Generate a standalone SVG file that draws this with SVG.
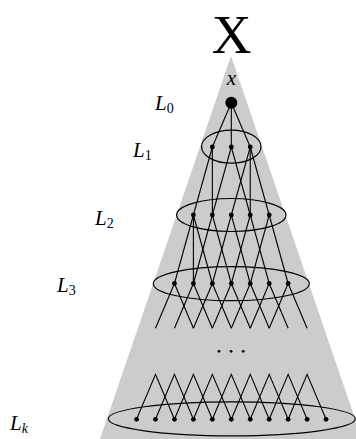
<svg xmlns="http://www.w3.org/2000/svg" width="356" height="439" viewBox="0 0 356 439">
<style>
.e{stroke:#000;stroke-width:1.2;fill:none}
#connectors line,#connectors polyline{stroke:#000;stroke-width:1.1;fill:none}
.d{fill:#000}
.m{font-family:"Liberation Serif","Times New Roman",serif;font-style:italic;font-size:21px;fill:#000}
.s{font-size:14px;font-style:normal}
.sk{font-size:14px}
</style>
<polygon points="231,56 100,439 362,439" fill="#cccccc"/>
<text x="231.5" y="53" font-family="Liberation Serif,serif" font-size="55" text-anchor="middle">X</text>
<g id="connectors">
<line x1="231.3" y1="102.7" x2="212.35" y2="147"/>
<line x1="231.3" y1="102.7" x2="231.3" y2="147"/>
<line x1="231.3" y1="102.7" x2="250.25" y2="147"/>
<line x1="212.35" y1="147" x2="193.4" y2="215"/>
<line x1="212.35" y1="147" x2="212.35" y2="215"/>
<line x1="231.3" y1="147" x2="212.35" y2="215"/>
<line x1="231.3" y1="147" x2="250.25" y2="215"/>
<line x1="250.25" y1="147" x2="231.3" y2="215"/>
<line x1="250.25" y1="147" x2="250.25" y2="215"/>
<line x1="250.25" y1="147" x2="269.2" y2="215"/>
<line x1="193.4" y1="215" x2="174.45" y2="283.5"/>
<line x1="193.4" y1="215" x2="193.4" y2="283.5"/>
<line x1="193.4" y1="215" x2="212.35" y2="283.5"/>
<line x1="212.35" y1="215" x2="193.4" y2="283.5"/>
<line x1="212.35" y1="215" x2="231.3" y2="283.5"/>
<line x1="231.3" y1="215" x2="212.35" y2="283.5"/>
<line x1="231.3" y1="215" x2="250.25" y2="283.5"/>
<line x1="250.25" y1="215" x2="231.3" y2="283.5"/>
<line x1="250.25" y1="215" x2="269.2" y2="283.5"/>
<line x1="269.2" y1="215" x2="250.25" y2="283.5"/>
<line x1="269.2" y1="215" x2="288.15" y2="283.5"/>
<polyline points="155.5,328.3 174.45,283.5 193.4,328.3"/>
<polyline points="174.45,328.3 193.4,283.5 212.35,328.3"/>
<polyline points="193.4,328.3 212.35,283.5 231.3,328.3"/>
<polyline points="212.35,328.3 231.3,283.5 250.25,328.3"/>
<polyline points="231.3,328.3 250.25,283.5 269.2,328.3"/>
<polyline points="250.25,328.3 269.2,283.5 288.15,328.3"/>
<polyline points="269.2,328.3 288.15,283.5 307.1,328.3"/>
<polyline points="136.55,419.3 155.5,374.3 174.45,419.3"/>
<polyline points="155.5,419.3 174.45,374.3 193.4,419.3"/>
<polyline points="174.45,419.3 193.4,374.3 212.35,419.3"/>
<polyline points="193.4,419.3 212.35,374.3 231.3,419.3"/>
<polyline points="212.35,419.3 231.3,374.3 250.25,419.3"/>
<polyline points="231.3,419.3 250.25,374.3 269.2,419.3"/>
<polyline points="250.25,419.3 269.2,374.3 288.15,419.3"/>
<polyline points="269.2,419.3 288.15,374.3 307.1,419.3"/>
<polyline points="288.15,419.3 307.1,374.3 326.05,419.3"/>
</g>
<g id="root">
<circle class="d" cx="231.3" cy="102.7" r="6"/>
<text class="m" x="231.3" y="85" text-anchor="middle">x</text>
<text class="m" x="155" y="110">L<tspan class="s" dy="3">0</tspan></text>
</g>
<g id="layer1">
<ellipse class="e" cx="231.3" cy="146.7" rx="29.7" ry="16.5"/>
<circle class="d" cx="212.35" cy="147" r="2.4"/>
<circle class="d" cx="231.3" cy="147" r="2.4"/>
<circle class="d" cx="250.25" cy="147" r="2.4"/>
<text class="m" x="133" y="157">L<tspan class="s" dy="3">1</tspan></text>
</g>
<g id="layer2">
<ellipse class="e" cx="231.3" cy="215" rx="54.7" ry="16.5"/>
<circle class="d" cx="193.4" cy="215" r="2.4"/>
<circle class="d" cx="212.35" cy="215" r="2.4"/>
<circle class="d" cx="231.3" cy="215" r="2.4"/>
<circle class="d" cx="250.25" cy="215" r="2.4"/>
<circle class="d" cx="269.2" cy="215" r="2.4"/>
<text class="m" x="95" y="225">L<tspan class="s" dy="3">2</tspan></text>
</g>
<g id="layer3">
<ellipse class="e" cx="231.3" cy="283.7" rx="78" ry="17"/>
<circle class="d" cx="174.45" cy="283.5" r="2.4"/>
<circle class="d" cx="193.4" cy="283.5" r="2.4"/>
<circle class="d" cx="212.35" cy="283.5" r="2.4"/>
<circle class="d" cx="231.3" cy="283.5" r="2.4"/>
<circle class="d" cx="250.25" cy="283.5" r="2.4"/>
<circle class="d" cx="269.2" cy="283.5" r="2.4"/>
<circle class="d" cx="288.15" cy="283.5" r="2.4"/>
<text class="m" x="57" y="292">L<tspan class="s" dy="3">3</tspan></text>
</g>
<g id="ellipsis">
<circle class="d" cx="219" cy="351.3" r="1.4"/>
<circle class="d" cx="231.1" cy="351.3" r="1.4"/>
<circle class="d" cx="243.2" cy="351.3" r="1.4"/>
</g>
<g id="layerk">
<ellipse class="e" cx="231.8" cy="418.8" rx="123.5" ry="17"/>
<circle class="d" cx="136.55" cy="419.3" r="2.4"/>
<circle class="d" cx="155.5" cy="419.3" r="2.4"/>
<circle class="d" cx="174.45" cy="419.3" r="2.4"/>
<circle class="d" cx="193.4" cy="419.3" r="2.4"/>
<circle class="d" cx="212.35" cy="419.3" r="2.4"/>
<circle class="d" cx="231.3" cy="419.3" r="2.4"/>
<circle class="d" cx="250.25" cy="419.3" r="2.4"/>
<circle class="d" cx="269.2" cy="419.3" r="2.4"/>
<circle class="d" cx="288.15" cy="419.3" r="2.4"/>
<circle class="d" cx="307.1" cy="419.3" r="2.4"/>
<circle class="d" cx="326.05" cy="419.3" r="2.4"/>
<text class="m" x="10" y="430">L<tspan class="sk" dy="3">k</tspan></text>
</g>
</svg>
